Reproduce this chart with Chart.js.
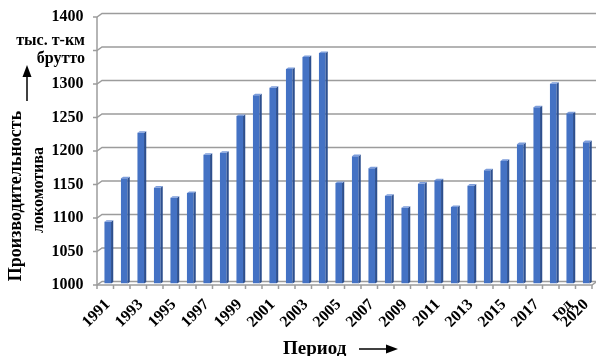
<!DOCTYPE html>
<html>
<head>
<meta charset="utf-8">
<script src="https://cdn.jsdelivr.net/npm/chart.js@4/dist/chart.umd.min.js"></script>
<style>
  html, body { margin: 0; padding: 0; background: #fff; }
  #wrap { width: 596px; height: 356px; position: relative; }
</style>
</head>
<body>
<div id="wrap"><canvas id="c" width="596" height="356"></canvas></div>
<script>
// Годы наблюдения
const years = ['1991','1992','1993','1994','1995','1996','1997','1998','1999','2000',
               '2001','2002','2003','2004','2005','2006','2007','2008','2009','2010',
               '2011','2012','2013','2014','2015','2016','2017','2018','2019','2020'];

// Производительность локомотива, тыс. т-км брутто
const productivity = [1092, 1157, 1225, 1143, 1128, 1135, 1192, 1195, 1250, 1281,
                      1292, 1320, 1338, 1344, 1150, 1190, 1172, 1131, 1113, 1149,
                      1154, 1114, 1146, 1169, 1183, 1208, 1263, 1298, 1254, 1211];

// Подписи оси категорий (через одну)
const xTickLabels = ['1991','','1993','','1995','','1997','','1999','',
                     '2001','','2003','','2005','','2007','','2009','',
                     '2011','','2013','','2015','','2017','','год','2020'];

// Значения шкалы и их подписи (место 1350 занято единицами измерения)
const yTicks = [1000, 1050, 1100, 1150, 1200, 1250, 1300, 1350, 1400];
const yTickLabels = ['1000', '1050', '1100', '1150', '1200', '1250', '1300', '', '1400'];

const SERIF = '"Liberation Serif", "Times New Roman", serif';
const GRID = '#9c9c9c';
const DX = 5, DY = -3.5;               // глубина задней стенки
const FRONT_DX = -2.5, FRONT_DY = 1.5; // передняя грань относительно середины

function drawWalls(chart) {
  const { ctx, chartArea: a } = chart;
  const yScale = chart.scales.y;
  const fx0 = a.left + FRONT_DX;
  const fx1 = a.right + FRONT_DX;
  ctx.save();
  ctx.strokeStyle = GRID;
  ctx.lineWidth = 1.5;
  yTicks.forEach(v => {
    const fy = yScale.getPixelForValue(v) + FRONT_DY;
    ctx.beginPath();
    ctx.moveTo(fx0 - 4, fy);
    ctx.lineTo(fx0, fy);
    ctx.lineTo(fx0 + DX, fy + DY);
    ctx.lineTo(fx1 + DX, fy + DY);
    ctx.stroke();
  });
  const top = yScale.getPixelForValue(1400) + FRONT_DY;
  const bot = yScale.getPixelForValue(1000) + FRONT_DY;
  ctx.beginPath();
  ctx.moveTo(fx0, top);
  ctx.lineTo(fx0, bot);
  ctx.stroke();
  // передний край пола
  ctx.beginPath();
  ctx.moveTo(fx0, bot);
  ctx.lineTo(fx1, bot);
  ctx.lineTo(fx1 + DX, bot + DY);
  ctx.stroke();
  // деления оси категорий
  const step = (a.right - a.left) / years.length;
  for (let i = 0; i <= years.length; i++) {
    const tx = fx0 + i * step;
    ctx.beginPath();
    ctx.moveTo(tx, bot);
    ctx.lineTo(tx, bot + 4);
    ctx.stroke();
  }
  ctx.restore();
}

function drawBarSides(chart) {
  const { ctx } = chart;
  const meta = chart.getDatasetMeta(0);
  ctx.save();
  meta.data.forEach(bar => {
    const { x, y, base, width } = bar.getProps(['x', 'y', 'base', 'width'], true);
    const r = x + width / 2, l = x - width / 2;
    const sd = 2.2, su = -1.6;
    ctx.fillStyle = '#2d4f8e';
    ctx.beginPath();
    ctx.moveTo(r, y); ctx.lineTo(r + sd, y + su);
    ctx.lineTo(r + sd, base + su); ctx.lineTo(r, base);
    ctx.closePath(); ctx.fill();
    ctx.fillStyle = '#7c9ddb';
    ctx.beginPath();
    ctx.moveTo(l, y); ctx.lineTo(r, y);
    ctx.lineTo(r + sd, y + su); ctx.lineTo(l + sd, y + su);
    ctx.closePath(); ctx.fill();
  });
  ctx.restore();
}

function drawTitles(chart) {
  const { ctx } = chart;
  ctx.save();
  ctx.fillStyle = '#000';
  ctx.strokeStyle = '#000';
  // единицы измерения
  ctx.font = 'bold 16px ' + SERIF;
  ctx.textAlign = 'right';
  ctx.textBaseline = 'middle';
  ctx.fillText('тыс. т-км', 85, 41);
  ctx.fillText('брутто', 85, 59);
  // стрелка вверх
  ctx.lineWidth = 1.5;
  ctx.beginPath(); ctx.moveTo(27, 101); ctx.lineTo(27, 74); ctx.stroke();
  ctx.beginPath(); ctx.moveTo(27, 65); ctx.lineTo(31.5, 77); ctx.lineTo(22.5, 77); ctx.closePath(); ctx.fill();
  // название оси значений
  ctx.save();
  ctx.translate(16, 196);
  ctx.rotate(-Math.PI / 2);
  ctx.textAlign = 'center';
  ctx.font = 'bold 18px ' + SERIF;
  ctx.fillText('Производительность', 0, 0);
  ctx.restore();
  ctx.save();
  ctx.translate(39, 190);
  ctx.rotate(-Math.PI / 2);
  ctx.textAlign = 'center';
  ctx.font = 'bold 16px ' + SERIF;
  ctx.fillText('локомотива', 0, 0);
  ctx.restore();
  // название оси категорий
  ctx.font = 'bold 19px ' + SERIF;
  ctx.textAlign = 'left';
  ctx.textBaseline = 'alphabetic';
  ctx.fillText('Период', 283, 354);
  ctx.beginPath(); ctx.moveTo(359, 349); ctx.lineTo(388, 349); ctx.stroke();
  ctx.beginPath(); ctx.moveTo(398, 349); ctx.lineTo(386, 344.5); ctx.lineTo(386, 353.5); ctx.closePath(); ctx.fill();
  ctx.restore();
}

// Объёмные стенки, сетка, грани столбцов и подписи
const walls = {
  id: 'walls',
  beforeDatasetsDraw(chart) { drawWalls(chart); },
  afterDatasetsDraw(chart) { drawBarSides(chart); },
  afterDraw(chart) { drawTitles(chart); }
};

new Chart(document.getElementById('c'), {
  type: 'bar',
  data: {
    labels: years,
    datasets: [{
      data: productivity,
      base: 1000,
      backgroundColor: '#4472c4',
      borderWidth: 0,
      barPercentage: 0.4,
      categoryPercentage: 1.0
    }]
  },
  options: {
    responsive: false,
    animation: false,
    events: [],
    layout: { padding: { left: 0, top: 15.5, right: 1.5, bottom: 0 } },
    plugins: { legend: { display: false }, tooltip: { enabled: false } },
    scales: {
      x: {
        afterFit(s) { s.height = 72.5; s.paddingLeft = 0; s.paddingRight = 0; },
        grid: { display: false, drawTicks: false },
        border: { display: false },
        ticks: {
          autoSkip: false,
          maxRotation: 45,
          minRotation: 45,
          padding: 12,
          color: '#000',
          font: { family: SERIF, size: 16, weight: 'bold' },
          callback: (v, i) => xTickLabels[i]
        }
      },
      y: {
        min: 1000,
        max: 1400,
        afterFit(s) { s.width = 99.5; s.paddingTop = 0; s.paddingBottom = 0; },
        afterBuildTicks(s) { s.ticks = yTicks.map(v => ({ value: v })); },
        grid: { display: false, drawTicks: false },
        border: { display: false },
        ticks: {
          padding: 16,
          labelOffset: 1.5,
          color: '#000',
          font: { family: SERIF, size: 16, weight: 'bold' },
          callback: (v, i) => yTickLabels[i]
        }
      }
    }
  },
  plugins: [walls]
});
</script>
</body>
</html>
